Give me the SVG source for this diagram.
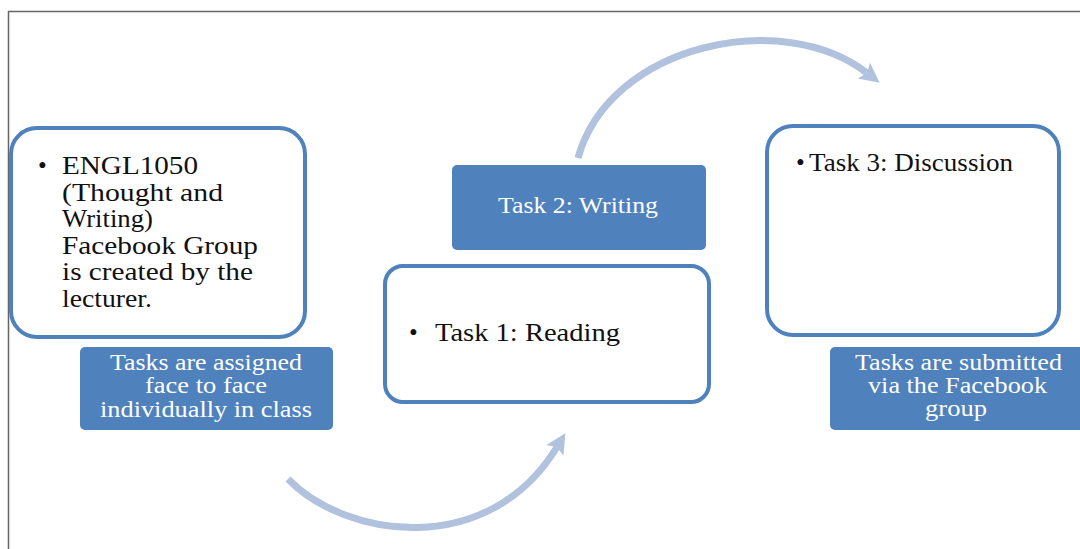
<svg xmlns="http://www.w3.org/2000/svg" width="1080" height="549" viewBox="0 0 1080 549">
  <style>
    .frame { fill: none; stroke: #666666; stroke-width: 1.5; }
    .card { fill: #ffffff; stroke: #4F81BD; stroke-width: 4; }
    .tag { fill: #4F81BD; }
    .dark { font-family: "Liberation Serif", "Times New Roman", serif; font-size: 25px; fill: #111111; }
    .light { font-family: "Liberation Serif", "Times New Roman", serif; font-size: 23px; fill: #ffffff; }
    .flow { fill: none; stroke: #B0C2DE; stroke-width: 7; }
  </style>
  <defs>
    <marker id="head" markerUnits="userSpaceOnUse" markerWidth="30" markerHeight="30" refX="4" refY="10" orient="auto">
      <polygon points="0,0 20,10 0,20 4,10" fill="#B0C2DE"/>
    </marker>
  </defs>

  <rect width="1080" height="549" fill="#ffffff"/>
  <path class="frame" d="M8.5,549 V11.5 H1080"/>

  <!-- curved connectors -->
  <g id="connectors">
    <path class="flow" d="M288,479 C345,538 488,560 557,447" marker-end="url(#head)"/>
    <path class="flow" d="M578,158 C610,43 784,8 867,73" marker-end="url(#head)"/>
  </g>

  <g id="node-group">
    <rect class="card" x="11" y="128" width="294" height="209" rx="26"/>
    <text class="dark" x="38" y="174">•</text>
    <text class="dark" x="62" y="174" textLength="136" lengthAdjust="spacingAndGlyphs">ENGL1050</text>
    <text class="dark" x="62" y="201" textLength="161" lengthAdjust="spacingAndGlyphs">(Thought  and</text>
    <text class="dark" x="62" y="227" textLength="91" lengthAdjust="spacingAndGlyphs">Writing)</text>
    <text class="dark" x="62" y="254" textLength="196" lengthAdjust="spacingAndGlyphs">Facebook Group</text>
    <text class="dark" x="62" y="280" textLength="191" lengthAdjust="spacingAndGlyphs">is  created by the</text>
    <text class="dark" x="62" y="307" textLength="90" lengthAdjust="spacingAndGlyphs">lecturer.</text>
  </g>

  <g id="node-assigned">
    <rect class="tag" x="80" y="347" width="253" height="83" rx="5"/>
    <text class="light" x="110" y="370" textLength="192" lengthAdjust="spacingAndGlyphs">Tasks are assigned</text>
    <text class="light" x="145" y="393" textLength="122" lengthAdjust="spacingAndGlyphs">face to face</text>
    <text class="light" x="100" y="417" textLength="212" lengthAdjust="spacingAndGlyphs">individually  in  class</text>
  </g>

  <g id="node-task2">
    <rect class="tag" x="452" y="165" width="254" height="85" rx="5"/>
    <text class="light" x="498" y="213" textLength="160" lengthAdjust="spacingAndGlyphs">Task 2: Writing</text>
  </g>

  <g id="node-task1">
    <rect class="card" x="385" y="266" width="324" height="136" rx="18"/>
    <text class="dark" x="409" y="341">•</text>
    <text class="dark" x="435" y="341" textLength="185" lengthAdjust="spacingAndGlyphs">Task  1: Reading</text>
  </g>

  <g id="node-task3">
    <rect class="card" x="767" y="126" width="292" height="209" rx="26"/>
    <text class="dark" x="796" y="171">•</text>
    <text class="dark" x="809" y="171" textLength="204" lengthAdjust="spacingAndGlyphs">Task 3: Discussion</text>
  </g>

  <g id="node-submitted">
    <rect class="tag" x="830" y="347" width="256" height="83" rx="5"/>
    <text class="light" x="855" y="370" textLength="207" lengthAdjust="spacingAndGlyphs">Tasks are submitted</text>
    <text class="light" x="868" y="393" textLength="179" lengthAdjust="spacingAndGlyphs">via  the Facebook</text>
    <text class="light" x="925" y="416" textLength="62" lengthAdjust="spacingAndGlyphs">group</text>
  </g>
</svg>
